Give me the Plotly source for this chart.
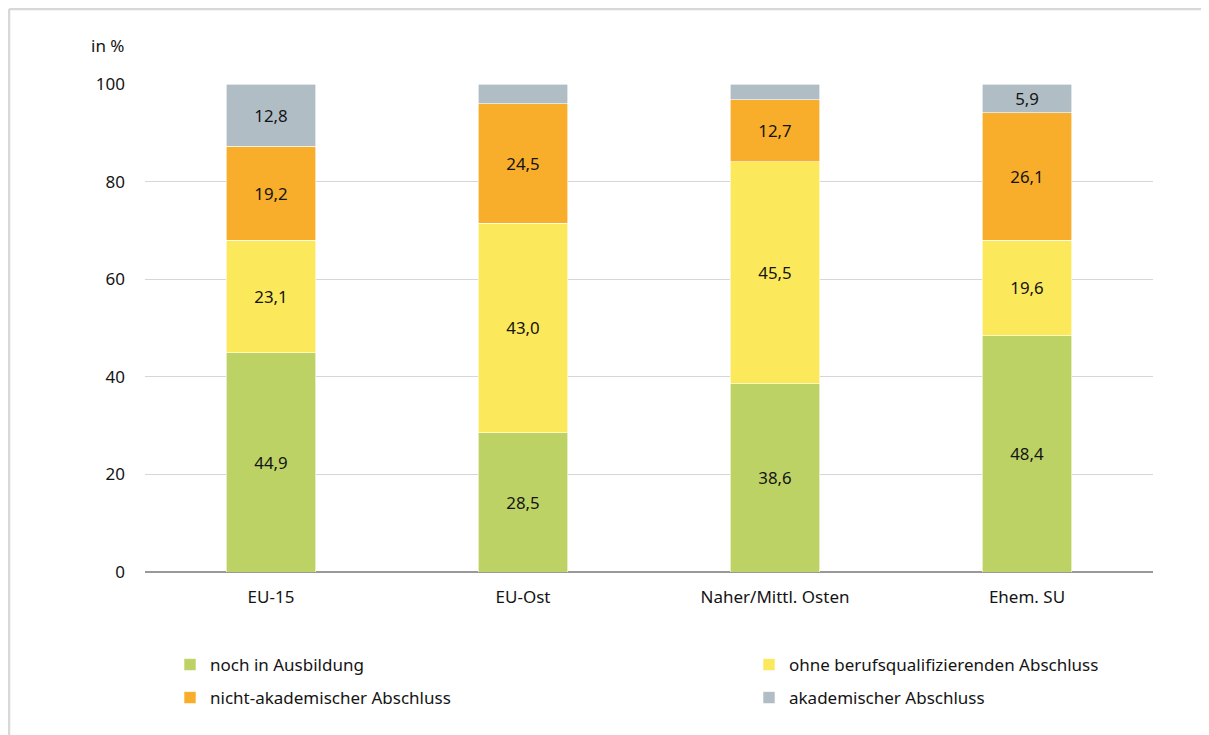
import plotly.graph_objects as go

#? Data
regions     = ["EU-15", "EU-Ost", "Naher/Mittl. Osten", "Ehem. SU"]
series      = ["noch in Ausbildung", "ohne berufsqualifizierenden Abschluss",
               "nicht-akademischer Abschluss", "akademischer Abschluss"]
in_ausb     = [44.9, 28.5, 38.6, 48.4]
ohne_abs    = [23.1, 43.0, 45.5, 19.6]
nicht_akad  = [19.2, 24.5, 12.7, 26.1]
akad        = [12.8, 4.0, 3.2, 5.9]

colors      = ["#bdd264", "#fce95b", "#f8ae2b", "#b1bdc5"]

#? Layout helpers (page pixel -> paper), page has an 8px body margin
OFF         = 8
W, H        = 1209 - OFF, 735 - OFF
L, R, T, B  = 145 - OFF, 56, 84 - OFF, 163
pw, ph      = W - L - R, H - T - B
px          = lambda x: (x - OFF - L) / pw
py          = lambda y: (H - B - (y - OFF)) / ph

def lbl(v):
    return f"{v:.1f}".replace(".", ",") if v >= 5 else ""

fig = go.Figure()
legend_pos = [("legend", 170, 665), ("legend2", 749, 665), ("legend3", 170, 698), ("legend4", 749, 698)]
for name, vals, col, (lg, lx, ly) in zip(series, [in_ausb, ohne_abs, nicht_akad, akad], colors, legend_pos):
    fig.add_trace(go.Bar(
        x=regions, y=vals, name=name, legend=lg, showlegend=True,
        marker=dict(color=col, line=dict(color="white", width=0.6)),
        text=[lbl(v) for v in vals], textposition="inside", insidetextanchor="middle",
        textfont=dict(size=17, color="#141414"), hoverinfo="skip",
    ))

legend_common = dict(orientation="v", xanchor="left", yanchor="middle",
                     font=dict(size=17, color="#141414"), bgcolor="rgba(0,0,0,0)")
layout_legends = {lg: dict(x=px(lx), y=py(ly), **legend_common) for lg, lx, ly in legend_pos}

fig.update_layout(
    width=W, height=H,
    margin=dict(l=L, r=R, t=T, b=B),
    showlegend=True,
    barmode="stack", bargap=0.643,
    separators=",.",
    plot_bgcolor="white", paper_bgcolor="white",
    font=dict(family="Noto Sans, Open Sans, sans-serif", size=17, color="#141414"),
    uniformtext=dict(minsize=10, mode="show"),
    xaxis=dict(showgrid=False, showline=False, ticks="", ticklabelstandoff=13,
               tickfont=dict(size=17)),
    yaxis=dict(range=[0, 100], tickvals=[0, 20, 40, 60, 80, 100], showgrid=True,
               gridcolor="#d6d6d6", gridwidth=1, zeroline=True, zerolinecolor="#999999",
               zerolinewidth=1.5, showline=False, ticks="", ticklabelstandoff=19,
               tickfont=dict(size=17)),
    annotations=[dict(text="in %", xref="paper", yref="paper", x=px(107), y=py(45),
                      xanchor="center", yanchor="middle", showarrow=False, font=dict(size=17))],
    shapes=[
        dict(type="line", xref="paper", yref="paper", x0=px(OFF + 1), x1=px(1209), y0=py(OFF + 1), y1=py(OFF + 1),
             line=dict(color="#d8d8d8", width=2.5)),
        dict(type="line", xref="paper", yref="paper", x0=px(OFF + 1), x1=px(OFF + 1), y0=py(OFF + 1), y1=py(735),
             line=dict(color="#d8d8d8", width=2.5)),
    ],
    **layout_legends,
)

fig.write_html("out.html")
